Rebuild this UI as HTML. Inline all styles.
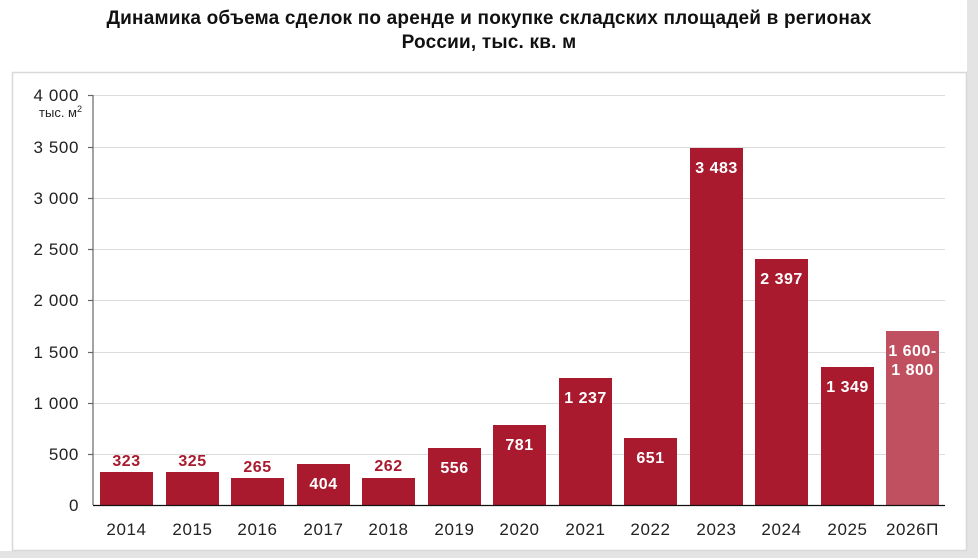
<!DOCTYPE html>
<html><head><meta charset="utf-8"><style>
html,body{margin:0;padding:0;background:#fff;}
svg{display:block;font-family:"Liberation Sans",sans-serif;}
</style></head><body>
<svg width="978" height="558" viewBox="0 0 978 558">
<rect x="0" y="0" width="978" height="558" fill="#fff"/>
<rect x="0" y="551" width="978" height="7" fill="#e4e4e4"/>
<rect x="967" y="0" width="11" height="558" fill="#e4e4e4"/>
<rect x="12.5" y="72.5" width="954" height="478" fill="none" stroke="#d8d8d8" stroke-width="1.5"/>
<text x="489" y="24" text-anchor="middle" font-size="19" font-weight="bold" fill="#111" letter-spacing="0.2">Динамика объема сделок по аренде и покупке складских площадей в регионах</text>
<text x="489" y="48" text-anchor="middle" font-size="19" font-weight="bold" fill="#111" letter-spacing="0.2">России, тыс. кв. м</text>
<g stroke="#dcdcdc" stroke-width="1">
<line x1="93" x2="945" y1="95.5" y2="95.5"/><line x1="93" x2="945" y1="147.5" y2="147.5"/>
<line x1="93" x2="945" y1="198.5" y2="198.5"/><line x1="93" x2="945" y1="249.5" y2="249.5"/>
<line x1="93" x2="945" y1="300.5" y2="300.5"/><line x1="93" x2="945" y1="352.5" y2="352.5"/>
<line x1="93" x2="945" y1="403.5" y2="403.5"/><line x1="93" x2="945" y1="454.5" y2="454.5"/>
</g>
<g stroke="#666" stroke-width="1.2">
<line x1="93" x2="93" y1="95" y2="505"/>
<line x1="88" x2="93" y1="95.5" y2="95.5"/><line x1="88" x2="93" y1="147.5" y2="147.5"/>
<line x1="88" x2="93" y1="198.5" y2="198.5"/><line x1="88" x2="93" y1="249.5" y2="249.5"/>
<line x1="88" x2="93" y1="300.5" y2="300.5"/><line x1="88" x2="93" y1="352.5" y2="352.5"/>
<line x1="88" x2="93" y1="403.5" y2="403.5"/><line x1="88" x2="93" y1="454.5" y2="454.5"/>
</g>
<g font-size="17" fill="#222" text-anchor="end" letter-spacing="0.6">
<text x="79" y="101">4 000</text><text x="79" y="153">3 500</text><text x="79" y="204">3 000</text>
<text x="79" y="255">2 500</text><text x="79" y="306">2 000</text><text x="79" y="358">1 500</text>
<text x="79" y="409">1 000</text><text x="79" y="460">500</text><text x="79" y="511">0</text>
</g>
<text x="82" y="117" text-anchor="end" font-size="13" fill="#222">тыс. м<tspan dy="-5" font-size="9">2</tspan></text>
<g fill="#a91a2e">
<rect x="100" y="472" width="53" height="33"/>
<rect x="166" y="472" width="53" height="33"/>
<rect x="231" y="478" width="53" height="27"/>
<rect x="297" y="464" width="53" height="41"/>
<rect x="362" y="478" width="53" height="27"/>
<rect x="428" y="448" width="53" height="57"/>
<rect x="493" y="425" width="53" height="80"/>
<rect x="559" y="378" width="53" height="127"/>
<rect x="624" y="438" width="53" height="67"/>
<rect x="690" y="148" width="53" height="357"/>
<rect x="755" y="259" width="53" height="246"/>
<rect x="821" y="367" width="53" height="138"/>
</g>
<rect x="886" y="331" width="53" height="174" fill="#c0505f"/>
<line x1="93" x2="945" y1="505.5" y2="505.5" stroke="#111" stroke-width="1.3"/>
<g font-size="16" font-weight="bold" text-anchor="middle" fill="#a91a2e" letter-spacing="0.5">
<text x="126.5" y="466">323</text><text x="192.5" y="466">325</text>
<text x="257.5" y="472">265</text><text x="388.5" y="471">262</text>
</g>
<g font-size="16" font-weight="bold" text-anchor="middle" fill="#fff" letter-spacing="0.5">
<text x="323.5" y="489">404</text><text x="454.5" y="473">556</text>
<text x="519.5" y="450">781</text><text x="585.5" y="403">1 237</text>
<text x="650.5" y="463">651</text><text x="716.5" y="173">3 483</text>
<text x="781.5" y="284">2 397</text><text x="847.5" y="392">1 349</text>
<text x="912.5" y="356">1 600-</text><text x="912.5" y="375">1 800</text>
</g>
<g font-size="17" fill="#222" text-anchor="middle" letter-spacing="0.6">
<text x="126.5" y="535">2014</text><text x="192.5" y="535">2015</text><text x="257.5" y="535">2016</text>
<text x="323.5" y="535">2017</text><text x="388.5" y="535">2018</text><text x="454.5" y="535">2019</text>
<text x="519.5" y="535">2020</text><text x="585.5" y="535">2021</text><text x="650.5" y="535">2022</text>
<text x="716.5" y="535">2023</text><text x="781.5" y="535">2024</text><text x="847.5" y="535">2025</text>
<text x="912.5" y="535">2026П</text>
</g>
</svg>
</body></html>
